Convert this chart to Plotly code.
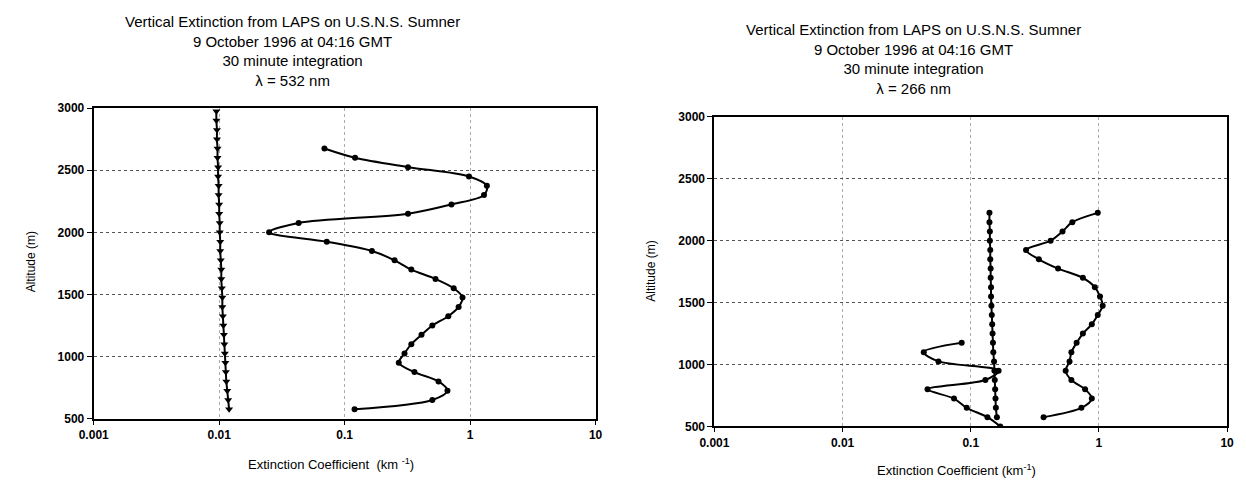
import plotly.graph_objects as go

# ---------------- data ----------------
# Left panel: lambda = 532 nm
alt_532_a = [2975, 2900, 2825, 2750, 2675, 2600, 2525, 2450, 2375, 2300, 2225,
             2150, 2075, 2000, 1925, 1850, 1775, 1700, 1625, 1550, 1475, 1400,
             1325, 1250, 1175, 1100, 1025, 950, 875, 800, 725, 650, 575]
ext_532_a = [0.0095, 0.0095, 0.0096, 0.0096, 0.0097, 0.0097, 0.0098, 0.0098, 0.0099,
             0.0099, 0.0100, 0.0100, 0.0101, 0.0101, 0.0102, 0.0102, 0.0103, 0.0104,
             0.0104, 0.0105, 0.0106, 0.0106, 0.0107, 0.0108, 0.0109, 0.0110, 0.0111,
             0.0112, 0.0113, 0.0114, 0.0116, 0.0118, 0.0120]

alt_532_b = [2675, 2600, 2525, 2450, 2375, 2300, 2225, 2150, 2075, 2000, 1925,
             1850, 1775, 1700, 1625, 1550, 1475, 1400, 1325, 1250, 1175, 1100,
             1025, 950, 875, 800, 725, 650, 575]
ext_532_b = [0.069, 0.121, 0.32, 0.98, 1.36, 1.29, 0.71, 0.32, 0.043, 0.025, 0.072,
             0.165, 0.25, 0.34, 0.53, 0.74, 0.87, 0.81, 0.67, 0.50, 0.41, 0.34,
             0.30, 0.27, 0.36, 0.56, 0.66, 0.50, 0.12]

# Right panel: lambda = 266 nm
alt_266_c = [2225, 2150, 2075, 2000, 1925, 1850, 1775, 1700, 1625, 1550, 1475, 1400,
             1325, 1250, 1175, 1100, 1025, 950, 875, 800, 725, 650, 575]
ext_266_c = [0.140, 0.140, 0.141, 0.141, 0.142, 0.142, 0.143, 0.143, 0.144, 0.144,
             0.145, 0.146, 0.147, 0.148, 0.149, 0.150, 0.152, 0.153, 0.154, 0.155,
             0.156, 0.157, 0.160]

alt_266_d = [1175, 1100, 1025, 950, 875, 800, 725, 650, 575, 500]
ext_266_d = [0.085, 0.043, 0.056, 0.165, 0.13, 0.046, 0.074, 0.093, 0.135, 0.17]

alt_266_e = [2225, 2150, 2075, 2000, 1925, 1850, 1775, 1700, 1625, 1550, 1475, 1400,
             1325, 1250, 1175, 1100, 1025, 950, 875, 800, 725, 650, 575]
ext_266_e = [0.98, 0.62, 0.52, 0.42, 0.27, 0.34, 0.48, 0.75, 0.93, 1.02, 1.07, 0.98,
             0.88, 0.75, 0.67, 0.61, 0.59, 0.55, 0.61, 0.78, 0.88, 0.73, 0.37]

x_ticks = [0.001, 0.01, 0.1, 1, 10]
x_tick_text = ["0.001", "0.01", "0.1", "1", "10"]
y_ticks = [500, 1000, 1500, 2000, 2500, 3000]
y_tick_text = ["500", "1000", "1500", "2000", "2500", "3000"]

title_532 = ("Vertical Extinction from LAPS on U.S.N.S. Sumner<br>"
             "9 October 1996 at 04:16 GMT<br>30 minute integration<br>λ = 532 nm")
title_266 = ("Vertical Extinction from LAPS on U.S.N.S. Sumner<br>"
             "9 October 1996 at 04:16 GMT<br>30 minute integration<br>λ = 266 nm")
y_title = "Altitude (m)"
x_title_532 = "Extinction Coefficient  (km <sup>-1</sup>)"
x_title_266 = "Extinction Coefficient (km<sup>-1</sup>)"

# ---------------- figure ----------------
# page body keeps its default 8px margin, so the figure is sized to fit the window
OFF = 8
W, H = 1246 - 2 * OFF, 488 - 2 * OFF
FONT = "Liberation Sans, Arial, Helvetica, sans-serif"

fig = go.Figure()


def add_series(x, y, xa, ya, symbol, size):
    fig.add_trace(go.Scatter(
        x=x, y=y, xaxis=xa, yaxis=ya, mode="lines+markers",
        line=dict(color="black", width=2, shape="spline", smoothing=0.9),
        marker=dict(symbol=symbol, size=size, color="black"),
        showlegend=False, hoverinfo="x+y"))


add_series(ext_532_a, alt_532_a, "x", "y", "triangle-down", 7)
add_series(ext_532_b, alt_532_b, "x", "y", "circle", 6)
add_series(ext_266_c, alt_266_c, "x2", "y2", "circle", 6)
add_series(ext_266_d, alt_266_d, "x2", "y2", "circle", 6)
add_series(ext_266_e, alt_266_e, "x2", "y2", "circle", 6)


def px_x(p):
    return (p - OFF) / W


def px_y(p):
    return 1 - (p - OFF) / H


xaxis_common = dict(
    type="log", range=[-3, 1], tickvals=x_ticks, ticktext=x_tick_text,
    showline=True, linecolor="black", linewidth=2, mirror=True,
    ticks="outside", ticklen=4, tickcolor="black", tickwidth=1,
    showgrid=True, gridcolor="#aaa", gridwidth=1, griddash="dot",
    tickfont=dict(family=FONT, size=12, color="black", weight="bold"),
    zeroline=False, fixedrange=True,
)
yaxis_common = dict(
    range=[500, 3000], tickvals=y_ticks, ticktext=y_tick_text,
    showline=True, linecolor="black", linewidth=2, mirror=True,
    ticks="outside", ticklen=5, tickcolor="black", tickwidth=1,
    showgrid=True, gridcolor="#555", gridwidth=1, griddash="dot",
    tickfont=dict(family=FONT, size=12, color="black", weight="bold"),
    zeroline=False, fixedrange=True,
)

fig.update_layout(
    width=W, height=H,
    margin=dict(l=0, r=0, t=0, b=0),
    paper_bgcolor="white", plot_bgcolor="white",
    font=dict(family=FONT, color="black"),
    xaxis=dict(xaxis_common, domain=[px_x(80), px_x(591)], anchor="y"),
    yaxis=dict(yaxis_common, domain=[px_y(424), px_y(104)], anchor="x"),
    xaxis2=dict(xaxis_common, domain=[px_x(712), px_x(1234)], anchor="y2"),
    yaxis2=dict(yaxis_common, domain=[px_y(432), px_y(113)], anchor="x2"),
)

annots = [
    dict(text=title_532, x=px_x(282), y=px_y(45.5), size=15, angle=0),
    dict(text=title_266, x=px_x(915), y=px_y(53), size=15, angle=0),
    dict(text=y_title, x=px_x(17), y=px_y(262), size=12, angle=-90),
    dict(text=y_title, x=px_x(648), y=px_y(272), size=12, angle=-90),
    dict(text=x_title_532, x=px_x(322), y=px_y(471), size=13, angle=0),
    dict(text=x_title_266, x=px_x(958), y=px_y(477), size=13, angle=0),
]
for a in annots:
    fig.add_annotation(xref="paper", yref="paper", showarrow=False,
                       xanchor="center", yanchor="middle",
                       font=dict(family=FONT, color="black", size=a["size"]),
                       text=a["text"], x=a["x"], y=a["y"], textangle=a["angle"])

fig.write_html("out.html")
